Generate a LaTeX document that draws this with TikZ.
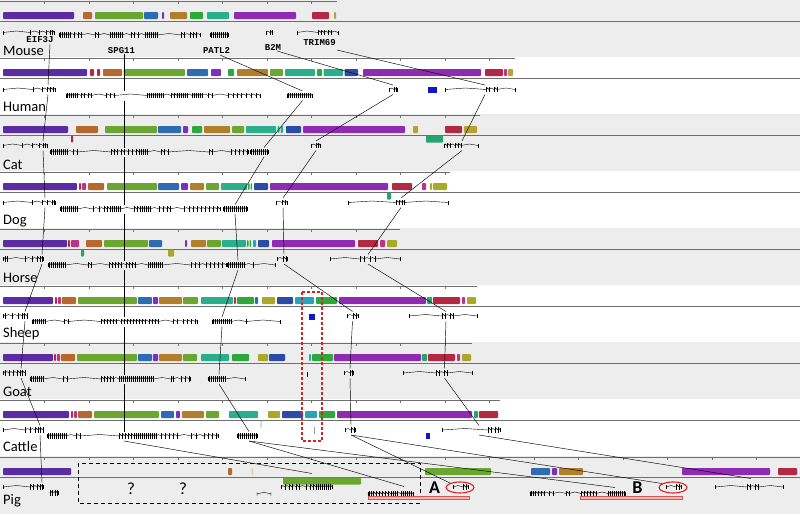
\documentclass[tikz,border=0pt]{standalone}
\usepackage{fontspec}
\setmainfont{Carlito}
\newfontfamily\genefont{Liberation Mono}
\usetikzlibrary{calc}
\definecolor{BandGrey}{HTML}{EDEDED}
\definecolor{RuleGrey}{HTML}{6E6E6E}
\definecolor{HiRed}{HTML}{D62424}
\definecolor{PinkBar}{HTML}{F6B9B9}
\definecolor{cIn}{HTML}{5B2CA3}
\definecolor{cOr}{HTML}{B8682C}
\definecolor{cGr}{HTML}{6BA730}
\definecolor{cBl}{HTML}{2F6BB3}
\definecolor{cVi}{HTML}{7A30B8}
\definecolor{cOc}{HTML}{B07F2C}
\definecolor{cG2}{HTML}{2EA83C}
\definecolor{cTe}{HTML}{2BAE8C}
\definecolor{cJa}{HTML}{25A46E}
\definecolor{cPu}{HTML}{8F2BB3}
\definecolor{cCr}{HTML}{B32944}
\definecolor{cYe}{HTML}{B8A22F}
\definecolor{cMa}{HTML}{BC3385}
\definecolor{cDb}{HTML}{2B4BA8}
\definecolor{cCy}{HTML}{2AA3B8}
\definecolor{cOl}{HTML}{A9A82B}
\definecolor{cSq}{HTML}{1414C8}
\definecolor{cPale}{HTML}{D6D0A0}
\definecolor{cLime}{HTML}{9CCB6C}
% y of gene line, start, end, exon positions
\newcommand{\genemodel}[4]{%
  \draw[intron] (#2,#1-2) -- (#2,#1+2) (#3,#1-2) -- (#3,#1+2);
  \foreach \e [remember=\e as \q (initially #2)] in {#4,#3}
    \draw[intron] (\q,#1) -- ({(\q+\e)/2},#1-1.5) -- (\e,#1);
  \foreach \e in {#4} \fill[exon] (\e-0.5,#1-2.7) rectangle (\e+0.5,#1+2.7);
}
% top of row, list of blocks
\newcommand{\blockrow}[2]{%
  \foreach \a/\b/\c in {#2} \fill[blk=\c] (\a,#1) rectangle (\b,#1+7);
}
\newcommand{\rulerline}[1]{%
  \draw[ruler] (0,1.5) -- (#1,1.5);
  \foreach \k in {44.5,89,...,#1} \draw[ruler] (\k,1.5) -- (\k,3.5);
  \draw[seqline] (0,21) -- (800,21);
}

\begin{document}
\begin{tikzpicture}[x=1pt,y=-1pt,
  band/.style={fill=BandGrey},
  ruler/.style={draw=RuleGrey,line width=0.8pt},
  seqline/.style={draw=RuleGrey,line width=0.9pt},
  blk/.style={fill=#1,rounded corners=0.8pt},
  intron/.style={draw=black,line width=0.4pt},
  exon/.style={fill=black},
  link/.style={draw=black,line width=0.45pt},
  species/.style={anchor=base west,inner sep=0pt,font=\fontsize{14.5}{14.5}\selectfont},
  genename/.style={inner sep=0pt,font=\genefont\bfseries\fontsize{9}{9}\selectfont},
  query/.style={inner sep=0pt,font=\fontsize{17}{17}\selectfont},
  regionlbl/.style={inner sep=0pt,font=\bfseries\fontsize{18}{18}\selectfont},
  hilite/.style={draw=HiRed,line width=1.1pt},
  pinkbar/.style={fill=PinkBar,draw=HiRed!80,line width=0.4pt},
]
\useasboundingbox (0,0) rectangle (800,514);
\fill[white] (0,0) rectangle (800,514);

% Mouse
\begin{scope}[shift={(0,0)}]
\fill[band] (0,0) rectangle (800,57);
\rulerline{337}
\blockrow{12}{3/74/cIn, 83/92/cOr, 95/143/cGr, 144/158/cBl, 162/164/cVi, 170/187/cOc, 190/203/cG2, 207/229/cTe, 234/296/cPu, 312/329/cCr, 334/336/cYe}
\genemodel{32.5}{3}{54}{30,39,46,50,52.5}
\genemodel{35}{59}{200}{60,62,...,70,74,78,81,95,98,110,112,...,122,131,134,138,145,147,...,157,181,184,190,193,196}
\genemodel{35}{210}{228}{211,213,...,227}
\genemodel{32.5}{266}{272.5}{270,272}
\genemodel{32.5}{297}{338}{318,321,324,328,331}
\node[genename] (eif-name) at (40,40) {EIF3J};
\node[genename] (spg-name) at (121.5,50.5) {SPG11};
\node[genename] (pat-name) at (216.5,50) {PATL2};
\node[genename] (b2m-name) at (273,47) {B2M};
\node[genename] (tri-name) at (319.5,42.5) {TRIM69};
\node[species] (mouse) at (3,55.5) {Mouse};
\coordinate (mo-eif) at (50,39);
\coordinate (mo-spg) at (124,49);
\coordinate (mo-pat) at (220,50);
\coordinate (mo-b2m) at (277,46);
\coordinate (mo-tri) at (337,45);
\end{scope}

% Human
\begin{scope}[shift={(0,57)}]
\rulerline{515}
\blockrow{12}{3/87/cIn, 90/94/cCr, 97/100/cCr, 103/122/cOr, 123.5/185/cGr, 187/208/cBl, 211/221/cVi, 228/234/cG2, 237/268/cOc, 270/283/cGr, 285/315/cTe, 317/322/cG2, 323.5/343/cTe, 344.5/358/cDb, 363/481/cPu, 485/503/cCr, 504/507/cMa, 508/513/cYe}
\genemodel{32.5}{3}{55}{33,42,47,50,53}
\genemodel{38.5}{66}{260}{67,69,...,77,81,84,88,91,106,110,114,147,149,...,163,171,174,177,179,181,...,187,192,194,...,202,208,212,228,233,237,241,246,251,256}
\genemodel{38.5}{287}{312}{288,290,...,310}
\genemodel{32.5}{389}{397}{394,396}
\genemodel{32.5}{445}{515}{486,489,494,497}
\fill[cSq] (428,30) rectangle (437,36);
\node[species] (human) at (3,54.5) {Human};
\coordinate (hu-eif) at (48,32.5);
\coordinate (hu-spg) at (124,38.5);
\coordinate (hu-pat) at (302.5,38.5);
\coordinate (hu-b2m) at (393,32.5);
\coordinate (hu-tri) at (485,32.5);
\end{scope}

% Cat
\begin{scope}[shift={(0,114)}]
\fill[band] (0,0) rectangle (800,57);
\rulerline{480}
\blockrow{12}{3/68/cIn, 76/98/cOr, 105/157/cGr, 158/181/cBl, 183/188/cVi, 192/202/cG2, 204/230/cOc, 232/244/cGr, 246/276/cTe, 277.5/279.5/cTe, 280.5/283/cTe, 286/301/cDb, 303/405/cPu, 413/418/cYe, 445/462/cCr, 464/477/cYe}
\blockrow{21.5}{71/73/cCr, 426/443/cJa}
\genemodel{31.5}{3}{47}{22,32,39,43,45}
\genemodel{38}{50}{248}{51,53,...,67,73,77,111,114,117,121,124,128,132,136,139,141,...,147,161,164,168,209,212,231,235,239,243,247}
\genemodel{38}{250}{268}{251,253,...,267}
\genemodel{31.5}{311}{320}{316,318.5}
\genemodel{31.5}{444}{478}{447,450,455,458,461}
\node[species] (cat) at (3,55.5) {Cat};
\coordinate (ca-eif) at (43,31.5);
\coordinate (ca-spg) at (124,38);
\coordinate (ca-pat) at (264,38);
\coordinate (ca-b2m) at (316,31.5);
\coordinate (ca-tri) at (462,31.5);
\end{scope}

% Dog
\begin{scope}[shift={(0,171)}]
\rulerline{450}
\blockrow{12}{3/77/cIn, 79/81/cCr, 82/86/cMa, 88/104/cOr, 107/157/cGr, 158/179/cBl, 181/188/cVi, 190/204/cOc, 206/219/cGr, 221/247/cTe, 248/249.5/cG2, 250.5/252/cG2, 254/268/cDb, 270/388/cPu, 392/412/cCr, 422/426/cMa, 430/432/cOl, 433/447/cOl}
\blockrow{21.5}{387/391/cJa}
\genemodel{31.5}{3}{55}{32,42,47,52,54}
\genemodel{38}{60}{220}{61,63,...,77,93,99,104,107,110,112,...,120,134,137,140,142,...,150,159,163,167,170,184,189,193,197,201,205,209,213,217}
\genemodel{38}{223}{247}{224,226,...,246}
\genemodel{31.5}{276}{287}{282,285}
\genemodel{31.5}{348}{448}{396,399,402,404}
\node[species] (dog) at (3,53.5) {Dog};
\coordinate (do-eif) at (45,31.5);
\coordinate (do-spg) at (124,38);
\coordinate (do-pat) at (235,38);
\coordinate (do-b2m) at (283,31.5);
\coordinate (do-tri) at (401,31.5);
\end{scope}

% Horse
\begin{scope}[shift={(0,228)}]
\fill[band] (0,0) rectangle (800,57);
\rulerline{400}
\blockrow{12}{3/67/cIn, 68/70/cCr, 71/79/cMa, 86/102/cOr, 104/148/cGr, 149/162/cBl, 185/187/cVi, 191/206/cOc, 207/221/cGr, 222/246/cTe, 247/248.5/cG2, 249.5/251/cG2, 253/256/cCy, 258/269/cDb, 272/355/cPu, 358/378/cCr, 380/385/cMa, 387/397/cOl}
\blockrow{21.5}{81/84/cJa, 168/174/cOl}
\genemodel{31}{3}{43}{5,7,25,32,37,40,42.5}
\genemodel{37}{48}{226}{49,51,...,65,88,91,109,112,115,118,121,126,129,132,135,148,150,...,162,191,195,199,206,210,214,218,222}
\genemodel{37}{227}{275}{228,230,...,244,253}
\genemodel{31}{277}{287}{283,286}
\genemodel{31}{330}{400}{360,364,370,375}
\node[species] (horse) at (3,54) {Horse};
\coordinate (ho-eif) at (42,31);
\coordinate (ho-spg) at (124,37);
\coordinate (ho-pat) at (238,37);
\coordinate (ho-b2m) at (284,31);
\coordinate (ho-tri) at (368,31);
\end{scope}

% Sheep
\begin{scope}[shift={(0,285)}]
\rulerline{477}
\blockrow{12}{3/53/cIn, 55/57/cCr, 58/61/cMa, 62/76/cOr, 78/137/cGr, 138/152/cBl, 153/158/cVi, 159/182/cOc, 183/198/cGr, 201/233/cTe, 234/236/cCr, 237/254/cG2, 255/258/cBl, 262/275/cOl, 277/293/cDb, 295/314/cCy, 316/337/cG2, 339/426/cPu, 427/432/cJa, 433/460/cCr, 462/465/cMa, 467/476/cOl}
\genemodel{31}{3}{27.5}{5,12,18,22,24.5,27}
\genemodel{36.5}{32}{197}{33,35,...,45,64,68,101,104,...,116,121,124,...,145,149,152,155,158,173,177,183,187,191,195}
\genemodel{36.5}{212}{280}{213,215,...,231,246}
\genemodel{31}{347}{358}{353,356}
\genemodel{31}{409}{477}{442,445,450,453}
\fill[cSq] (309,29) rectangle (315,35);
\node[species] (sheep) at (3,52) {Sheep};
\coordinate (sh-eif) at (25,31);
\coordinate (sh-spg) at (124,36.5);
\coordinate (sh-pat) at (222,36.5);
\coordinate (sh-b2m) at (352.5,31);
\coordinate (sh-tri) at (446,31);
\end{scope}

% Goat
\begin{scope}[shift={(0,342)}]
\fill[band] (0,0) rectangle (800,57);
\rulerline{472}
\blockrow{12}{3/53/cIn, 54/56/cCr, 57/60/cMa, 61/75/cOr, 77/137/cGr, 138/152/cBl, 153/158/cVi, 159/182/cOc, 183/197/cGr, 201/229/cTe, 232/249/cG2, 258/268/cOl, 269/285/cDb, 309/311/cCy, 312/333/cG2, 334/421/cPu, 422/427/cJa, 428/455/cCr, 457/460/cMa, 462/471/cOl}
\genemodel{31}{3}{25}{5,9,13,17,20,22.5,25}
\genemodel{37}{30}{190}{31,33,...,43,63,67,101,104,...,115,119,121,...,153,171,173,181,185,189}
\genemodel{37}{208}{245}{209,211,...,225}
\fill (306.6,30) rectangle (307.6,35);
\genemodel{31}{344}{353}{350,352.5}
\genemodel{31}{403}{472}{436,439,444,447}
\node[species] (goat) at (3,54) {Goat};
\coordinate (go-eif) at (21,31);
\coordinate (go-spg) at (124,37);
\coordinate (go-pat) at (219,37);
\coordinate (go-b2m) at (350,31);
\coordinate (go-tri) at (444.5,31);
\end{scope}

% Cattle
\begin{scope}[shift={(0,399)}]
\rulerline{500}
\blockrow{12}{3/69/cIn, 71/73/cCr, 74/77/cMa, 78/92/cOr, 94/159/cGr, 161/174/cBl, 176/180/cVi, 182/204/cOc, 206/219/cGr, 229/258/cTe, 268/280/cOl, 282/303/cDb, 305/317/cCy, 319/335/cG2, 337/472/cPu, 474/478/cJa, 479/498/cCr}
\blockrow{21.5}{260.5/261.5/cLime}
\genemodel{31}{3}{43}{25,30,35,38,40.5,43}
\genemodel{37}{47}{218}{48,50,...,66,76,80,119,122,...,131,134,136,...,156,161,165,169,173,177,191,196,204,208,212,216}
\genemodel{37}{237}{257}{238,240,...,256}
\fill[black!40] (313.6,28) rectangle (314.8,35);
\fill[cSq] (426,34) rectangle (430,40);
\genemodel{31}{345}{355}{351,354}
\genemodel{31}{442}{500}{488,491,495,498}
\node[species] (cattle) at (3,52.5) {Cattle};
\coordinate (ct-eif) at (40,31);
\coordinate (ct-spg) at (124,37);
\coordinate (ct-pat) at (249,37);
\coordinate (ct-b2m) at (351,31);
\coordinate (ct-tri) at (479,31);
\end{scope}

% Pig
\begin{scope}[shift={(0,456)}]
\fill[band] (0,0) rectangle (800,58);
\rulerline{800}
\blockrow{12}{3/71/cIn, 228/232/cOr, 251.5/253/cPale, 425/491/cGr, 531/550/cBl, 552/557/cVi, 559/583/cOc, 682/770/cPu, 778/797/cCr}
\blockrow{21.5}{283/361/cGr}
\genemodel{31}{3}{43}{30,33,37,40,42.5}
\genemodel{37}{50}{58}{50.8,52.6,55.5,57.3}
\draw[intron] (257,36) -- (257,40) (271,36) -- (271,40) (257,38) -- (264,36.3) -- (271,38);
\genemodel{31}{281}{332}{285,289,292,296,299,306,310,313,316,318,...,330}
\genemodel{38}{368}{413}{369,371,373,376,379,382,385,388,391,393,...,397,401,403,...,411}
\genemodel{31}{453}{468}{463,466}
\genemodel{37.5}{530}{625}{531,533,535,538,541,544,549,553,566,569,581,584,587,590,593,596,608,610,...,624}
\genemodel{31}{666}{681}{676,679}
\genemodel{31}{715}{783}{747,750,755,758}
\node[species] (pig) at (3,48) {Pig};
\coordinate (pi-eif) at (42,31);
\coordinate (pi-spg) at (312,22);
\coordinate (pi-patA) at (404,35);
\coordinate (pi-patB) at (615,36);
\coordinate (pi-b2mA) at (451,32);
\coordinate (pi-b2mB) at (662,32);
\coordinate (pi-tri) at (751,27);
\end{scope}

% orthologue links
\foreach \a/\b in {mo-eif/hu-eif, hu-eif/ca-eif, ca-eif/do-eif, do-eif/ho-eif, ho-eif/sh-eif, sh-eif/go-eif, go-eif/ct-eif, ct-eif/pi-eif,
  mo-spg/hu-spg, hu-spg/ca-spg, ca-spg/do-spg, do-spg/ho-spg, ho-spg/sh-spg, sh-spg/go-spg, go-spg/ct-spg, ct-spg/pi-spg,
  mo-pat/hu-pat, hu-pat/ca-pat, ca-pat/do-pat, do-pat/ho-pat, ho-pat/sh-pat, sh-pat/go-pat, go-pat/ct-pat, ct-pat/pi-patA, ct-pat/pi-patB,
  mo-b2m/hu-b2m, hu-b2m/ca-b2m, ca-b2m/do-b2m, do-b2m/ho-b2m, ho-b2m/sh-b2m, sh-b2m/go-b2m, go-b2m/ct-b2m, ct-b2m/pi-b2mA, ct-b2m/pi-b2mB,
  mo-tri/hu-tri, hu-tri/ca-tri, ca-tri/do-tri, do-tri/ho-tri, ho-tri/sh-tri, sh-tri/go-tri, go-tri/ct-tri, ct-tri/pi-tri}
  \draw[link] ($(\a)+(0,5)$) -- ($(\b)+(0,-4.5)$);

% highlights
\draw[hilite,dash pattern=on 3pt off 2pt] (302,292) rectangle (322,441);
\draw[line width=1pt,dash pattern=on 4pt off 3pt] (78,463) rectangle (420,503);
\node[query] (q1) at (131,489) {?};
\node[query] (q2) at (183,489) {?};
\fill[pinkbar] (368,496) rectangle (469,499.5);
\fill[pinkbar] (580,496) rectangle (682,499.5);
\node[regionlbl] (regA) at (434.5,487.5) {A};
\node[regionlbl] (regB) at (637.5,487.5) {B};
\draw[hilite] (460,487.5) ellipse (14pt and 5.5pt);
\draw[hilite] (673,487.5) ellipse (14pt and 5.5pt);
\end{tikzpicture}
\end{document}
